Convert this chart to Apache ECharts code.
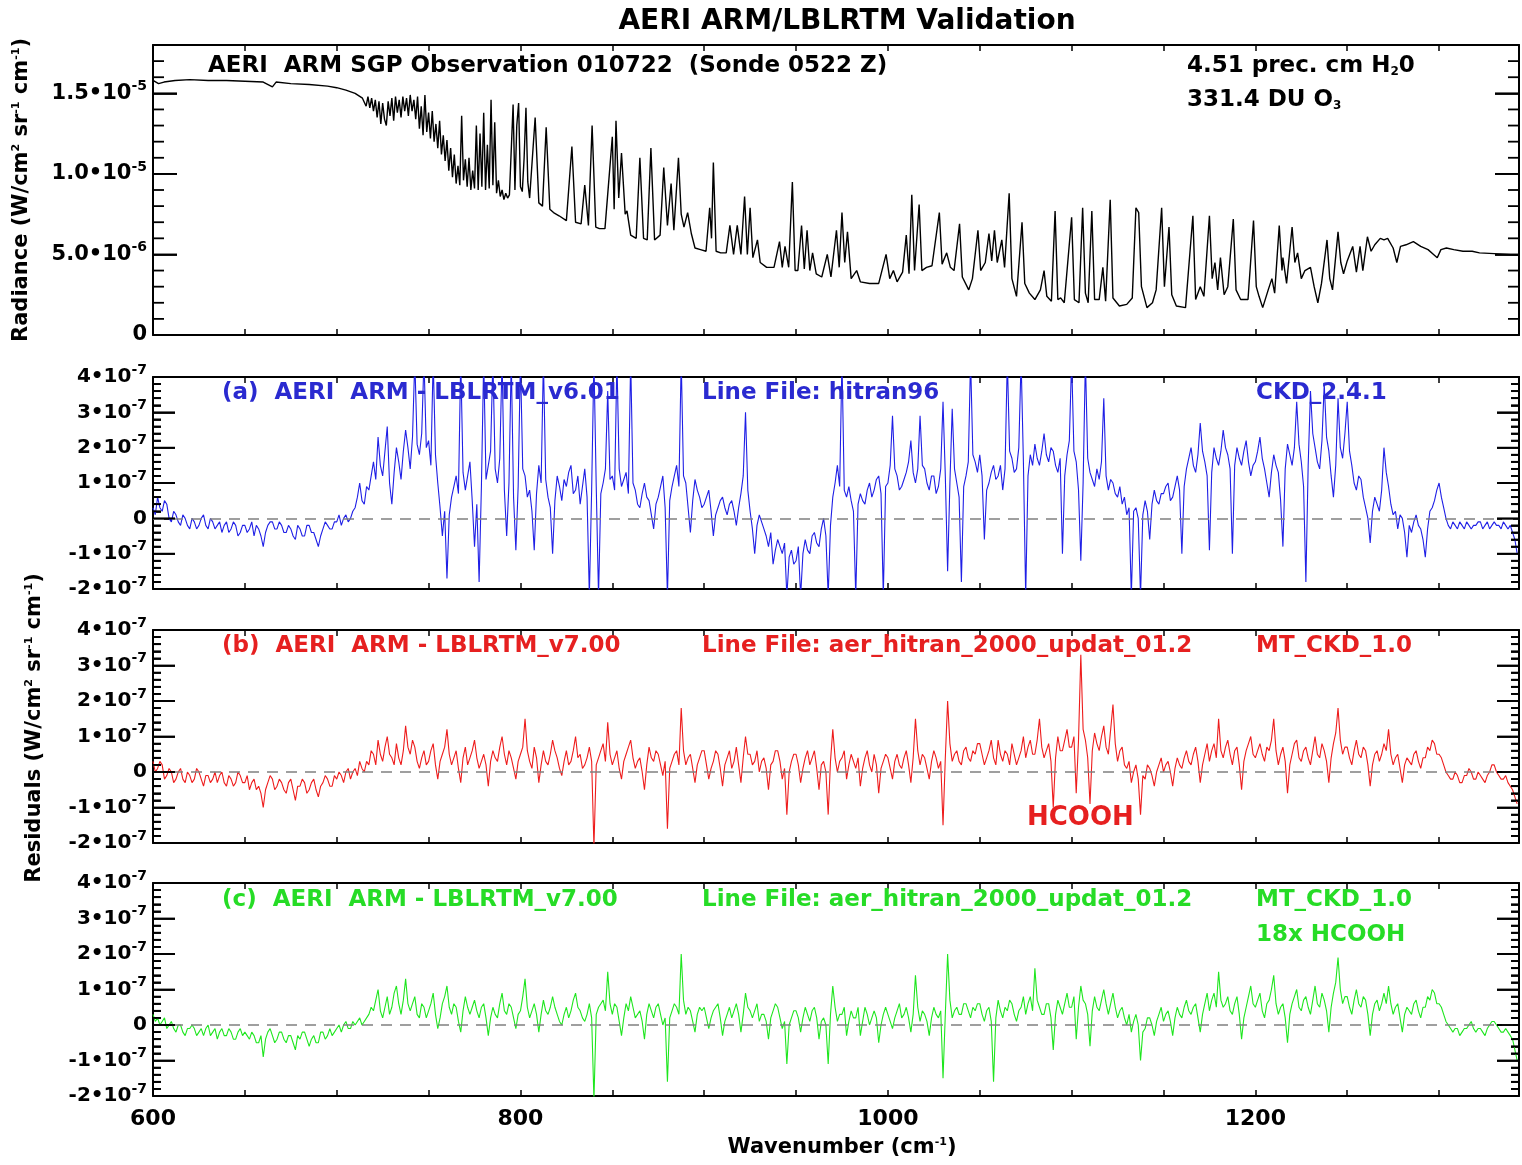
<!DOCTYPE html>
<html><head><meta charset="utf-8">
<script src="https://cdn.jsdelivr.net/npm/echarts/dist/echarts.min.js"></script>
<style>html,body{margin:0;padding:0;background:#fff}.layer{position:absolute;left:0;top:0;width:1522px;height:1165px}</style>
</head><body><div id="axes" class="layer"></div><div id="plot" class="layer"></div>
<script>
// ---------------- DATA ----------------
// Observed radiance, [wavenumber cm-1, radiance in units of 1e-6 W/(cm2 sr cm-1)]
const radiance = [[600,15.8],[603,15.6],[606,15.7],[612,15.8],[620,15.85],[630,15.8],[640,15.8],[650,15.75],[660,15.7],[665,15.4],[667,15.7],[675,15.6],[685,15.55],[695,15.45],[700,15.35],[705,15.2],[710,15.0],[714,14.7],
[716,14.2],[717,14.8],[718,14.1],[719,14.7],[720,13.9],[721,14.6],[722,13.5],[723,14.5],[724,13.1],[725,14.4],[726,13.4],[727,13.0],[728,14.5],[729,13.6],[730,14.7],[731,13.3],[732,14.8],[733,13.8],[734,14.6],[735,13.5],[736,14.8],[737,13.9],[738,14.7],[739,13.6],[740,14.9],[741,13.9],[742,14.6],[743,13.4],[744,14.8],[745,12.8],[746,14.2],[747,12.4],[748,14.9],[749,12.6],[750,13.8],[751,12.2],[752,13.9],[753,12.0],[754,13.1],[755,11.6],[756,13.3],[757,11.2],[758,12.4],[759,10.8],[760,12.1],[761,10.2],[762,11.6],[763,9.8],[764,11.2],[765,9.4],[766,10.5],[767,9.3],[768,13.6],[769,9.6],[770,10.9],[771,9.2],[772,11.0],[773,9.0],[774,10.2],[775,9.1],[776,13.0],[777,9.0],[778,12.5],[779,9.2],[780,13.8],[781,9.0],[782,11.8],[783,9.1],[784,14.6],[785,9.3],[786,13.2],[787,8.8],[788,9.6],[789,8.6],[790,9.0],[791,8.4],[792,8.8],[793,8.5],[794,8.7],[795,8.6],[796,14.3],[797,9.0],[798,13.0],[799,14.4],[800,9.2],[801,8.9],[802,11.0],[803,14.1],[804,9.5],[805,8.5],
[808,13.5],[810,8.2],[812,8.0],[814,12.9],[816,7.8],[818,7.6],[821,7.4],[825,7.1],[828,11.7],[830,7.0],[833,6.9],[835,9.3],[837,6.8],[839,13.0],[841,6.7],[843,6.6],[846,6.6],[850,12.3],[851,7.8],[852,13.3],[853.5,8.5],[855,11.3],[857,7.5],[858,7.7],[860,6.2],[863,6.0],[865,11.0],[867,6.0],[869,5.9],[871,11.6],[873,5.9],[876,6.2],[878,10.4],[880,6.8],[882,9.4],[883.5,6.5],[886,11.0],[887.5,7.5],[889,6.7],[891,7.6],[893,6.3],[895,5.4],[898,5.3],[901,5.2],[903,7.9],[904,6.0],[905,10.7],[906.5,5.2],[909,5.1],[912,5.1],[914,6.8],[916,5.0],[918,6.8],[920,5.0],[922,8.6],[923.5,5.0],[925,7.9],[926.5,4.8],[929,5.9],[930.5,4.5],[934,4.2],[938,4.2],[941,5.8],[942.5,4.2],[944,5.5],[946,4.2],[948,9.5],[949.5,4.0],[951,4.0],[953,6.8],[954.5,4.1],[956,6.5],[957.5,4.0],[959,5.1],[961,3.8],[964,3.6],[967,5.0],[969,3.6],[972,6.5],[973.5,4.2],[975,7.6],[976.5,4.5],[978,6.4],[980,3.5],[983,4.0],[985,3.3],[990,3.2],[995,3.2],[999,5.0],[1001,3.5],[1003,4.0],[1005,3.3],[1008,3.9],[1010,6.2],[1011.5,3.8],[1013,8.7],[1014.5,4.0],[1017,8.1],[1018.5,4.0],[1021,4.2],[1024,4.3],[1028,7.6],[1029.5,4.4],[1032,5.1],[1034,4.2],[1036,4.0],[1039,6.9],[1040.5,3.6],[1044,2.8],[1046,3.5],[1049,6.5],[1050.5,4.0],[1053,4.5],[1055,6.3],[1056.5,4.6],[1058,6.5],[1059.5,4.5],[1062,5.9],[1063.5,4.2],[1066,8.8],[1067.5,3.5],[1070,2.4],[1073,7.0],[1074.5,3.2],[1077,2.6],[1080,2.2],[1083,2.8],[1085,4.0],[1086.5,2.4],[1089,2.1],[1091,7.7],[1092.5,2.2],[1094,2.3],[1096,2.0],[1100,7.3],[1101.5,2.2],[1104,2.0],[1106,7.9],[1107.5,2.6],[1109,2.0],[1111,7.7],[1112.5,2.2],[1115,2.2],[1117,4.2],[1118.5,2.1],[1121,8.4],[1122.5,2.3],[1126,1.8],[1130,1.9],[1133,2.3],[1135,7.9],[1136.5,7.6],[1138,3.0],[1141,1.7],[1144,2.0],[1146,2.8],[1149,7.9],[1150.5,3.0],[1153,6.7],[1154.5,2.5],[1157,1.8],[1162,1.7],[1166,7.4],[1167.5,2.2],[1170,3.0],[1172,2.4],[1175,7.4],[1176.5,3.5],[1178,4.5],[1179.5,2.8],[1181,4.8],[1183,2.5],[1185,3.0],[1188,7.2],[1189.5,2.8],[1192,2.2],[1196,2.2],[1199,7.1],[1200.5,3.0],[1202,2.4],[1204,1.7],[1207,2.8],[1209,3.5],[1210.5,2.6],[1213,6.8],[1214.5,4.0],[1215,4.8],[1217,3.2],[1220,6.7],[1221.5,4.5],[1223,5.1],[1225,3.5],[1227,4.0],[1230,4.2],[1232,3.0],[1234,2.0],[1236,3.2],[1239,5.9],[1240.5,3.5],[1242,2.8],[1245,6.4],[1246.5,4.5],[1248,3.8],[1250,4.6],[1253,5.5],[1255,3.9],[1257,5.5],[1258.5,4.0],[1261,6.1],[1263,5.2],[1265,5.6],[1268,6.0],[1270,5.9],[1272,6.0],[1275,5.4],[1277,4.5],[1279,5.5],[1282,5.6],[1286,5.8],[1290,5.5],[1294,5.3],[1297,5.0],[1299,4.8],[1301,5.3],[1304,5.4],[1308,5.3],[1313,5.2],[1318,5.2],[1322,5.1],[1330,5.05],[1337,5.0],[1343,4.95]];

// Residual spectra sampled every 1.25 cm-1 starting at 600 cm-1 (units of 1e-7)
const residualStart = 600;
const residualStep = 1.25;
const residualA = [
 0.3,0.1,0.6,0.3,0.2,0.5,0.4,0.0,-0.1,0.2,0.1,-0.1,-0.2,0.1,0.0,-0.2,-0.3,0.0,-0.1,-0.3,-0.2,0.0,0.1,-0.2,-0.3,0.0,-0.1,-0.3,-0.2,-0.1,-0.4,-0.2,-0.1,-0.4,-0.3,-0.1,-0.2,-0.5,-0.4,-0.2,
 -0.2,-0.4,-0.3,-0.1,-0.5,-0.2,-0.3,-0.5,-0.8,-0.4,-0.2,-0.1,-0.1,-0.3,-0.3,-0.1,-0.2,-0.4,-0.4,-0.2,-0.3,-0.5,-0.6,-0.2,-0.3,-0.5,-0.5,-0.2,-0.2,-0.4,-0.4,-0.6,-0.8,-0.5,-0.3,-0.1,-0.2,-0.3,-0.3,-0.1,
 -0.1,0.1,-0.2,0.0,0.1,-0.1,0.0,0.2,0.3,0.6,1.0,0.5,0.4,0.9,0.8,1.2,1.6,1.1,2.3,1.5,1.2,1.9,2.6,1.0,0.4,1.3,2.0,1.6,1.1,1.9,2.5,2.0,1.4,2.3,4.5,2.1,1.8,2.4,4.5,2.0,
 2.2,1.5,4.5,1.8,1.0,0.3,-0.5,0.2,-1.7,0.1,0.6,0.9,1.2,0.7,4.5,1.3,0.8,1.2,1.6,0.5,-0.8,0.4,-1.8,0.9,4.5,1.1,1.5,1.9,4.5,1.4,1.0,1.7,4.5,0.8,-0.5,1.0,4.5,0.6,-0.9,0.9,
 4.5,1.4,1.2,0.6,0.8,0.2,-0.9,0.7,1.5,1.0,4.5,1.1,0.6,0.3,-1.0,0.5,1.2,0.9,0.5,1.1,0.9,1.3,1.5,0.7,0.8,1.2,0.4,0.9,1.4,0.6,-2.2,0.8,4.5,0.9,-2.2,0.7,1.0,1.4,3.6,1.1,
 1.2,0.8,4.5,1.4,0.9,1.1,1.3,0.7,4.5,1.0,0.8,0.4,0.3,0.7,1.0,0.6,0.5,0.1,-0.3,0.4,0.6,0.9,1.2,0.3,-2.2,0.5,0.9,1.2,1.5,0.9,4.5,1.2,1.0,0.3,-0.4,0.5,1.1,0.8,0.6,0.3,
 0.4,0.6,0.8,0.2,-0.5,0.1,0.3,0.5,0.6,0.3,0.1,0.4,0.5,0.2,-0.2,0.3,0.7,1.2,3.0,0.8,0.2,-0.3,-1.0,-0.2,0.1,-0.1,-0.3,-0.5,-0.8,-0.4,-1.3,-0.9,-0.6,-0.8,-1.0,-0.7,-2.2,-1.1,-0.9,-1.3,
 -1.2,-0.8,-2.2,-1.0,-0.6,-0.9,-1.0,-0.5,-0.4,-0.7,-0.8,-0.3,0.0,-0.5,-2.2,-0.2,0.6,1.0,1.5,0.9,4.5,0.8,0.6,0.9,0.5,0.2,-2.2,0.4,0.7,0.5,0.4,0.8,1.0,0.6,0.8,1.1,1.2,0.7,-2.2,0.9,
 1.0,1.5,2.9,1.4,1.2,0.8,0.9,1.1,1.3,1.6,2.2,1.3,1.0,1.4,2.9,1.5,1.4,1.0,0.8,1.2,1.2,0.7,0.9,1.4,3.3,1.2,-1.5,1.0,3.1,1.4,1.0,0.6,-1.8,0.9,1.2,1.6,4.5,1.8,1.6,1.3,
 1.8,1.2,-0.6,0.8,1.0,1.3,1.5,1.1,1.2,1.5,0.8,1.4,4.5,1.9,1.7,1.3,1.4,2.0,4.5,1.6,-2.2,1.2,1.8,1.5,2.1,1.7,1.5,1.9,2.4,1.8,1.6,2.0,1.9,1.5,1.3,1.7,-1.0,1.2,1.8,2.2,
 4.5,1.9,1.6,0.8,-1.2,1.0,4.5,1.7,1.3,1.1,0.9,1.4,1.1,1.6,3.4,1.2,0.8,1.1,1.0,0.7,0.6,0.9,0.4,0.6,0.1,0.3,-2.2,0.2,0.3,0.0,-2.2,0.1,0.5,0.2,-0.6,0.4,0.8,0.5,0.4,0.7,
 0.7,0.9,1.0,0.5,0.6,0.9,1.2,0.8,-1.0,0.9,1.4,1.7,2.0,1.5,1.3,1.8,2.7,1.9,1.6,1.2,-0.9,1.3,2.0,1.7,1.5,1.9,2.5,2.0,1.8,1.4,-1.0,1.5,2.0,1.7,1.5,1.9,2.2,1.6,1.2,1.5,
 1.6,1.9,2.3,1.7,1.4,1.0,0.6,1.3,1.8,1.5,1.3,0.5,-0.8,1.4,2.1,1.8,1.5,2.0,3.3,2.1,1.6,0.9,-1.8,1.5,3.6,2.4,2.0,1.6,1.4,2.2,3.8,2.3,1.9,1.2,0.6,1.5,3.4,2.0,1.7,2.4,
 3.3,1.9,1.5,1.0,0.8,1.2,1.1,0.6,0.3,0.0,-0.7,0.2,0.6,0.4,0.2,0.8,2.0,1.3,0.9,0.4,0.1,0.2,-0.3,0.1,0.0,-0.4,-1.1,-0.2,-0.4,-0.1,0.1,-0.2,-0.3,-0.6,-1.1,-0.3,0.2,0.3,0.5,0.8,
 1.0,0.6,0.3,0.0,-0.2,-0.3,-0.1,-0.2,-0.3,-0.1,-0.2,-0.3,-0.1,-0.2,-0.3,-0.2,-0.2,-0.1,-0.1,-0.3,-0.2,-0.1,-0.3,-0.2,-0.1,-0.2,-0.2,-0.3,-0.1,-0.2,-0.3,-0.2,-0.4,-0.6,-1.0];
const residualB = [
 0.3,0.0,0.1,0.3,0.2,-0.2,-0.1,0.1,0.0,-0.3,-0.2,0.0,0.1,-0.2,-0.3,0.0,-0.1,-0.3,-0.2,0.1,0.0,-0.2,-0.4,-0.1,-0.1,-0.3,-0.2,0.0,-0.3,-0.1,0.0,-0.3,-0.4,-0.1,-0.2,-0.4,-0.3,0.0,-0.1,-0.3,
 -0.3,-0.1,-0.5,-0.3,-0.2,-0.5,-0.4,-0.6,-1.0,-0.5,-0.3,-0.1,-0.2,-0.5,-0.4,-0.2,-0.3,-0.5,-0.6,-0.3,-0.2,-0.5,-0.8,-0.4,-0.4,-0.2,-0.3,-0.6,-0.5,-0.3,-0.2,-0.5,-0.7,-0.4,-0.3,-0.1,-0.2,-0.4,-0.4,-0.1,
 -0.2,0.0,-0.1,-0.3,0.0,0.1,-0.2,0.0,0.1,-0.1,0.3,0.1,0.0,0.3,0.2,0.6,0.5,0.2,0.9,0.5,0.3,0.7,1.0,0.5,0.4,0.2,0.8,0.4,0.2,0.6,1.3,0.7,0.5,0.9,0.7,0.3,0.1,0.4,0.6,0.2,
 0.3,0.6,0.8,0.2,-0.2,0.3,0.5,0.7,1.2,0.5,0.2,0.4,0.6,0.1,-0.3,0.4,0.7,0.2,0.4,0.6,0.9,0.4,0.1,0.3,0.5,0.2,-0.4,0.3,0.6,0.4,0.3,0.7,1.0,0.5,0.2,0.6,0.4,0.1,-0.2,0.3,
 0.5,0.7,1.5,0.6,0.3,0.1,0.7,0.4,-0.3,0.2,0.6,0.3,0.2,0.5,0.9,0.6,0.4,0.1,-0.1,0.3,0.6,0.2,0.3,0.6,1.0,0.4,0.5,0.1,0.2,0.4,0.7,0.3,-2.1,0.2,0.4,0.6,0.8,0.3,1.4,0.5,
 0.2,0.4,0.6,0.1,-0.2,0.3,0.5,0.7,0.9,0.4,0.1,0.3,0.4,0.0,-0.5,0.2,0.7,0.4,0.3,0.6,0.5,0.2,-0.1,0.3,-1.6,0.1,0.3,0.5,0.6,0.2,1.8,0.6,0.2,0.4,0.5,0.1,-0.3,0.2,0.4,0.6,
 0.6,0.2,-0.2,0.1,0.3,0.6,0.5,0.1,-0.4,0.2,0.4,0.6,0.1,0.3,0.7,0.2,-0.3,0.4,1.0,0.5,0.5,0.2,0.3,0.6,0.0,0.3,0.4,0.1,-0.5,0.2,0.3,0.6,0.6,0.3,-0.2,0.1,-1.2,0.0,0.3,0.5,
 0.5,0.2,-0.3,0.1,0.4,0.6,0.2,0.4,0.6,0.1,-0.5,0.2,0.3,0.0,-1.2,0.3,1.2,0.4,0.0,0.3,0.4,0.6,-0.2,0.2,0.5,0.3,0.1,0.4,-0.4,0.1,0.4,0.6,0.2,0.0,0.5,0.2,-0.6,0.1,0.3,0.5,
 0.4,0.1,-0.2,0.3,0.5,0.2,0.1,0.4,0.6,0.2,-0.3,0.4,1.5,0.6,0.2,0.5,0.4,0.1,-0.2,0.3,0.6,0.4,0.1,0.3,-1.5,0.4,2.0,0.8,0.3,0.5,0.6,0.3,0.2,0.6,0.7,0.4,0.3,0.6,0.5,0.8,
 0.8,0.5,0.2,0.4,0.6,0.9,0.4,0.2,0.9,0.5,0.3,0.6,0.5,0.2,0.8,0.5,0.2,0.4,0.6,1.0,0.4,0.7,0.9,0.5,0.5,0.9,1.5,0.7,0.4,0.6,0.8,0.3,-1.0,0.4,1.0,0.6,0.6,0.9,1.2,0.7,
 0.7,1.0,-0.6,0.9,3.3,1.2,0.9,0.4,-0.9,0.6,1.1,0.8,0.6,1.0,1.3,0.7,0.5,1.2,1.9,0.8,0.3,0.6,0.7,0.2,0.1,0.3,-0.3,0.0,0.2,-0.2,-1.2,-0.1,-0.2,0.2,0.1,-0.1,-0.4,0.0,0.2,0.4,
 0.0,0.2,0.3,0.0,-0.4,0.1,0.4,0.2,0.1,0.4,0.6,0.3,0.2,0.5,0.7,0.3,-0.3,0.2,0.5,0.8,0.3,0.6,0.8,0.4,1.5,0.6,0.4,0.7,0.9,0.5,0.2,0.6,0.7,0.2,-0.5,0.3,0.6,0.8,1.0,0.5,
 0.4,0.6,0.8,0.5,0.3,0.7,0.6,0.9,1.5,0.6,0.2,0.5,0.7,0.3,-0.6,0.2,0.5,0.8,0.9,0.4,0.3,0.6,0.7,0.4,0.2,0.6,1.0,0.5,0.4,0.8,0.6,0.3,-0.3,0.4,0.8,1.1,1.8,0.9,0.5,0.7,
 0.7,0.4,0.2,0.6,0.9,0.5,0.4,0.7,0.6,0.2,-0.4,0.2,0.5,0.6,0.3,0.5,0.8,0.6,1.2,0.5,0.2,0.4,0.5,0.1,-0.3,0.2,0.4,0.3,0.2,0.5,0.6,0.3,0.1,0.4,0.4,0.7,0.6,0.9,0.8,0.5,
 0.5,0.4,0.2,0.0,-0.1,-0.2,-0.2,0.0,-0.1,-0.3,-0.3,-0.1,-0.1,0.1,0.0,-0.2,-0.2,0.0,-0.1,-0.2,-0.3,-0.1,0.0,0.2,0.2,0.0,-0.1,-0.2,-0.2,-0.1,-0.3,-0.4,-0.5,-0.7,-0.9];
const residualC = [
 0.3,0.1,0.2,0.0,0.1,0.2,-0.1,0.0,0.1,-0.1,-0.2,0.0,0.0,-0.2,-0.3,-0.1,-0.1,0.0,-0.1,-0.3,-0.2,-0.1,-0.3,-0.1,0.0,-0.3,-0.2,-0.1,-0.4,-0.2,-0.1,-0.3,-0.3,-0.1,-0.2,-0.4,-0.4,-0.2,-0.1,-0.3,
 -0.2,-0.3,-0.4,-0.2,-0.3,-0.5,-0.5,-0.3,-0.9,-0.4,-0.2,-0.1,-0.3,-0.5,-0.4,-0.2,-0.2,-0.4,-0.5,-0.3,-0.3,-0.5,-0.7,-0.3,-0.4,-0.2,-0.2,-0.4,-0.6,-0.4,-0.3,-0.5,-0.5,-0.2,-0.2,-0.4,-0.3,-0.1,-0.3,-0.2,
 -0.1,0.0,-0.2,0.0,0.1,-0.1,-0.1,0.1,0.0,0.1,0.2,0.0,0.1,0.2,0.3,0.5,0.4,0.7,1.0,0.4,0.2,0.5,0.8,0.3,0.5,0.9,1.1,0.6,0.3,0.7,1.3,0.6,0.4,0.6,0.8,0.3,0.2,0.6,0.5,0.2,
 0.4,0.6,0.9,0.3,-0.1,0.2,0.6,0.8,1.1,0.5,0.3,0.6,0.5,0.1,-0.2,0.4,0.8,0.5,0.3,0.5,0.7,0.4,0.2,0.5,0.6,0.2,-0.3,0.2,0.5,0.3,0.2,0.6,0.9,0.4,0.3,0.6,0.5,0.2,-0.1,0.3,
 0.4,0.8,1.3,0.5,0.2,0.4,0.6,0.3,-0.2,0.3,0.7,0.4,0.3,0.5,0.8,0.5,0.3,0.1,0.0,0.3,0.5,0.2,0.4,0.7,0.9,0.5,0.4,0.2,0.1,0.3,0.6,0.2,-2.1,0.3,0.5,0.6,0.7,0.4,1.5,0.6,
 0.3,0.6,0.5,0.1,-0.3,0.2,0.6,0.4,0.8,0.5,0.2,0.3,0.4,0.1,-0.4,0.3,0.6,0.4,0.2,0.5,0.6,0.3,0.0,0.2,-1.6,0.2,0.4,0.6,0.5,0.3,2.0,0.7,0.3,0.5,0.4,0.1,-0.2,0.3,0.5,0.4,
 0.5,0.2,-0.1,0.2,0.4,0.5,0.6,0.2,-0.3,0.1,0.3,0.5,0.2,0.4,0.6,0.3,-0.2,0.3,0.9,0.5,0.4,0.2,0.4,0.6,0.1,0.3,0.3,0.1,-0.4,0.2,0.4,0.6,0.5,0.2,-0.1,0.1,-1.1,0.0,0.2,0.4,
 0.4,0.2,-0.2,0.2,0.5,0.3,0.1,0.4,0.5,0.2,-0.4,0.1,0.2,0.0,-1.1,0.3,1.1,0.5,0.1,0.3,0.3,0.5,-0.3,0.1,0.4,0.2,0.2,0.5,-0.3,0.1,0.5,0.3,0.0,0.2,0.4,0.2,-0.5,0.0,0.3,0.5,
 0.3,0.1,-0.1,0.2,0.4,0.6,0.2,0.3,0.5,0.2,-0.2,0.3,1.4,0.5,0.1,0.4,0.3,0.1,-0.3,0.2,0.5,0.3,0.2,0.4,-1.5,0.3,2.0,0.7,0.2,0.4,0.5,0.3,0.3,0.6,0.6,0.4,0.2,0.5,0.4,0.6,
 0.6,0.3,0.1,0.4,0.5,0.1,-1.6,0.2,0.7,0.4,0.2,0.5,0.4,0.7,0.6,0.3,0.1,0.4,0.5,0.8,0.3,0.6,0.8,0.4,1.6,0.7,0.5,0.3,0.3,0.6,0.6,0.2,-0.7,0.3,0.7,0.5,0.3,0.6,0.9,0.5,
 0.5,0.8,-0.4,0.5,1.1,0.7,0.6,0.3,-0.6,0.4,0.8,0.5,0.4,0.7,1.0,0.6,0.3,0.6,0.9,0.5,0.2,0.4,0.5,0.2,0.0,0.3,-0.2,0.1,0.3,0.0,-1.0,-0.2,-0.1,0.2,0.2,0.0,-0.3,0.1,0.3,0.5,
 0.1,0.3,0.4,0.1,-0.3,0.2,0.5,0.3,0.2,0.5,0.7,0.4,0.3,0.5,0.6,0.2,-0.2,0.3,0.6,0.9,0.4,0.7,0.9,0.5,1.5,0.7,0.5,0.6,0.8,0.4,0.3,0.6,0.8,0.3,-0.4,0.2,0.5,0.8,1.1,0.6,
 0.5,0.7,0.9,0.4,0.2,0.6,0.7,1.0,1.4,0.6,0.3,0.5,0.6,0.2,-0.5,0.3,0.6,0.8,1.0,0.5,0.4,0.7,0.8,0.5,0.3,0.7,1.1,0.6,0.5,0.9,0.7,0.4,-0.2,0.5,0.9,1.2,1.9,1.0,0.6,0.8,
 0.8,0.5,0.3,0.7,1.0,0.6,0.5,0.8,0.7,0.3,-0.3,0.3,0.6,0.7,0.4,0.6,0.9,0.6,1.1,0.6,0.3,0.5,0.6,0.2,-0.2,0.3,0.5,0.4,0.3,0.6,0.7,0.4,0.2,0.5,0.5,0.8,0.7,1.0,0.9,0.6,
 0.6,0.5,0.3,0.1,0.0,-0.1,-0.2,-0.1,-0.1,-0.3,-0.2,-0.1,-0.1,0.0,0.1,-0.1,-0.2,-0.1,-0.1,-0.2,-0.3,-0.1,0.0,0.1,0.1,0.0,-0.1,-0.2,-0.2,-0.1,-0.2,-0.3,-0.4,-0.7,-1.0];

// Tick labels
const xTickLabels = [600, 800, 1000, 1200];
const radianceTickValues = [0, 5, 10, 15];
const radianceTickLabels = ['0', '5.0\u202210{s|-6}', '1.0\u202210{s|-5}', '1.5\u202210{s|-5}'];
const residualTickValues = [-2, -1, 0, 1, 2, 3, 4];
const residualTickLabels = ['-2\u202210{s|-7}', '-1\u202210{s|-7}', '0', '1\u202210{s|-7}', '2\u202210{s|-7}', '3\u202210{s|-7}', '4\u202210{s|-7}'];

// ---------------- CHART ----------------
const FONT = '"DejaVu Sans", sans-serif';
const BLUE = '#1f1fe6', RED = '#ee1c1c', GREEN = '#1ee61e';
const BLUE_T = '#2a2ad0', RED_T = '#e62020', GREEN_T = '#26dc26';
const X_MIN = 600, X_MAX = 1343.5;

const toXY = arr => arr.map((v, i) => [residualStart + i * residualStep, v]);

const makeGrids = () => [
  {left: 153, top: 45, width: 1366, height: 290},
  {left: 153, top: 377, width: 1366, height: 212},
  {left: 153, top: 630, width: 1366, height: 213},
  {left: 153, top: 883, width: 1366, height: 213}
];

const supRich = {s: {fontSize: 14, fontWeight: 'bold', fontFamily: FONT, color: '#000', padding: [0, 0, 14, 0]}};
const mkLine = () => ({show: true, onZero: false, lineStyle: {color: '#000', width: 2}});

function xAx(g, pos, labels) {
  return {
    type: 'value', gridIndex: g, position: pos, min: X_MIN, max: X_MAX, interval: 50,
    axisLine: mkLine(),
    axisTick: {show: true, inside: true, length: 6, lineStyle: {color: '#000', width: 1.5}},
    axisLabel: {show: labels, margin: 12, fontFamily: FONT, fontWeight: 'bold', fontSize: 22, color: '#000',
      formatter: v => xTickLabels.indexOf(v) >= 0 ? String(v) : ''},
    splitLine: {show: false}
  };
}
function radY(pos, labels) {
  return {
    type: 'value', gridIndex: 0, position: pos, min: 0, max: 18, interval: 5,
    axisLine: mkLine(),
    axisTick: {show: true, inside: true, length: 24, lineStyle: {color: '#000', width: 1.8}},
    axisLabel: {show: labels, margin: 6, fontFamily: FONT, fontWeight: 'bold', fontSize: 21, color: '#000',
      formatter: v => { const k = radianceTickValues.indexOf(v); return k >= 0 ? radianceTickLabels[k] : ''; },
      rich: supRich},
    splitLine: {show: false}
  };
}
function resY(g, pos, labels) {
  return {
    type: 'value', gridIndex: g, position: pos, min: -2, max: 4, interval: 1,
    axisLine: mkLine(),
    axisTick: {show: true, inside: true, length: 22, lineStyle: {color: '#000', width: 1.8}},
    minorTick: {show: true, splitNumber: 5, length: 8, lineStyle: {color: '#000', width: 1.8}},
    minorSplitLine: {show: false},
    axisLabel: {show: labels, margin: 6, fontFamily: FONT, fontWeight: 'bold', fontSize: 20, color: '#000',
      formatter: v => { const k = residualTickValues.indexOf(v); return k >= 0 ? residualTickLabels[k] : ''; },
      rich: supRich},
    splitLine: {show: false}
  };
}
function makeAxes(visible) {
  const xAxes = [];
  for (let g = 0; g < 4; g++) { xAxes.push(xAx(g, 'bottom', g === 3)); xAxes.push(xAx(g, 'top', false)); }
  const yAxes = [radY('left', true), radY('right', false),
    resY(1, 'left', true), resY(1, 'right', false),
    resY(2, 'left', true), resY(2, 'right', false),
    resY(3, 'left', true), resY(3, 'right', false)];
  if (!visible) { xAxes.forEach(a => a.show = false); yAxes.forEach(a => a.show = false); }
  return {xAxis: xAxes, yAxis: yAxes};
}

// y-axis tick marks (inward, on both frame sides), positioned through the axis scale
const radianceTicks = [];
for (let v = 0; v <= 18; v++) radianceTicks.push([v, v % 5 === 0 ? 24 : 11]);
const residualTicks = [];
for (let k = 0; k <= 30; k++) residualTicks.push([Math.round((-2 + k / 5) * 10) / 10, k % 5 === 0 ? 22 : 8]);

function tickSeries(xi, yi, ticks) {
  return {type: 'custom', xAxisIndex: xi, yAxisIndex: yi, silent: true, clip: false, z: 5, animation: false,
    data: ticks,
    renderItem: function (params, api) {
      const v = api.value(0), len = api.value(1);
      const l = api.coord([X_MIN, v]), r = api.coord([X_MAX, v]);
      return {type: 'group', children: [
        {type: 'line', shape: {x1: l[0], y1: l[1], x2: l[0] + len, y2: l[1]}, style: {stroke: '#000', lineWidth: 1.8}},
        {type: 'line', shape: {x1: r[0], y1: r[1], x2: r[0] - len, y2: r[1]}, style: {stroke: '#000', lineWidth: 1.8}}
      ]};
    }};
}

function resSeries(data, xi, yi, color) {
  return {type: 'line', xAxisIndex: xi, yAxisIndex: yi, data: toXY(data), showSymbol: false, clip: true,
    lineStyle: {color: color, width: 1.1},
    markLine: {silent: true, symbol: 'none', label: {show: false}, animation: false,
      lineStyle: {color: '#808080', type: [11, 8], width: 1.6}, data: [{yAxis: 0}]}};
}

function txt(x, y, text, color, size, align, rich) {
  return {type: 'text', x: x, y: y, z: 100,
    style: {text: text, fill: color, fontFamily: FONT, fontWeight: 'bold', fontSize: size,
      align: align || 'left', verticalAlign: 'middle', rich: rich}};
}
const subRich = c => ({sub: {fontSize: 12, fontWeight: 'bold', fontFamily: FONT, fill: c, padding: [12, 0, 0, 0]}});
const supR = (c, fs) => ({u: {fontSize: fs, fontWeight: 'bold', fontFamily: FONT, fill: c, padding: [0, 0, 12, 0]}});

const graphics = [
  txt(847, 22, 'AERI ARM/LBLRTM Validation', '#000', 28, 'center'),
  txt(208, 66, 'AERI  ARM SGP Observation 010722  (Sonde 0522 Z)', '#000', 23),
  txt(1187, 66, '4.51 prec. cm H{sub|2}0', '#000', 23, 'left', subRich('#000')),
  txt(1187, 100, '331.4 DU O{sub|3}', '#000', 23, 'left', subRich('#000')),
  txt(222, 393, '(a)  AERI  ARM - LBLRTM_v6.01', BLUE_T, 23),
  txt(702, 393, 'Line File: hitran96', BLUE_T, 23),
  txt(1256, 393, 'CKD_2.4.1', BLUE_T, 23),
  txt(222, 646, '(b)  AERI  ARM - LBLRTM_v7.00', RED_T, 23),
  txt(702, 646, 'Line File: aer_hitran_2000_updat_01.2', RED_T, 23),
  txt(1256, 646, 'MT_CKD_1.0', RED_T, 23),
  txt(1027, 818, 'HCOOH', RED_T, 26),
  txt(222, 900, '(c)  AERI  ARM - LBLRTM_v7.00', GREEN_T, 23),
  txt(702, 900, 'Line File: aer_hitran_2000_updat_01.2', GREEN_T, 23),
  txt(1256, 900, 'MT_CKD_1.0', GREEN_T, 23),
  txt(1256, 935, '18x HCOOH', GREEN_T, 23),
  Object.assign(txt(22, 190, 'Radiance (W/cm{u|2} sr{u|-1} cm{u|-1})', '#000', 21, 'center', supR('#000', 11)), {rotation: Math.PI / 2}),
  Object.assign(txt(35, 728, 'Residuals (W/cm{u|2} sr{u|-1} cm{u|-1})', '#000', 21, 'center', supR('#000', 11)), {rotation: Math.PI / 2}),
  txt(842, 1148, 'Wavenumber (cm{u|-1})', '#000', 21, 'center', supR('#000', 11))
];

// Layer 1: frames, ticks and tick labels
const axesChart = echarts.init(document.getElementById('axes'));
axesChart.setOption(Object.assign({animation: false, backgroundColor: '#fff', grid: makeGrids(), series: []}, makeAxes(true)));

// Layer 2: data, y tick marks, zero lines and annotations (same grids and scales, axes hidden)
const plotChart = echarts.init(document.getElementById('plot'));
plotChart.setOption(Object.assign({
  animation: false,
  backgroundColor: 'transparent',
  grid: makeGrids(),
  series: [
    tickSeries(0, 0, radianceTicks),
    tickSeries(2, 2, residualTicks),
    tickSeries(4, 4, residualTicks),
    tickSeries(6, 6, residualTicks),
    {type: 'line', xAxisIndex: 0, yAxisIndex: 0, data: radiance, showSymbol: false, clip: true,
      lineStyle: {color: '#000', width: 1.4}},
    resSeries(residualA, 2, 2, BLUE),
    resSeries(residualB, 4, 4, RED),
    resSeries(residualC, 6, 6, GREEN)
  ],
  graphic: graphics
}, makeAxes(false)));
</script></body></html>
